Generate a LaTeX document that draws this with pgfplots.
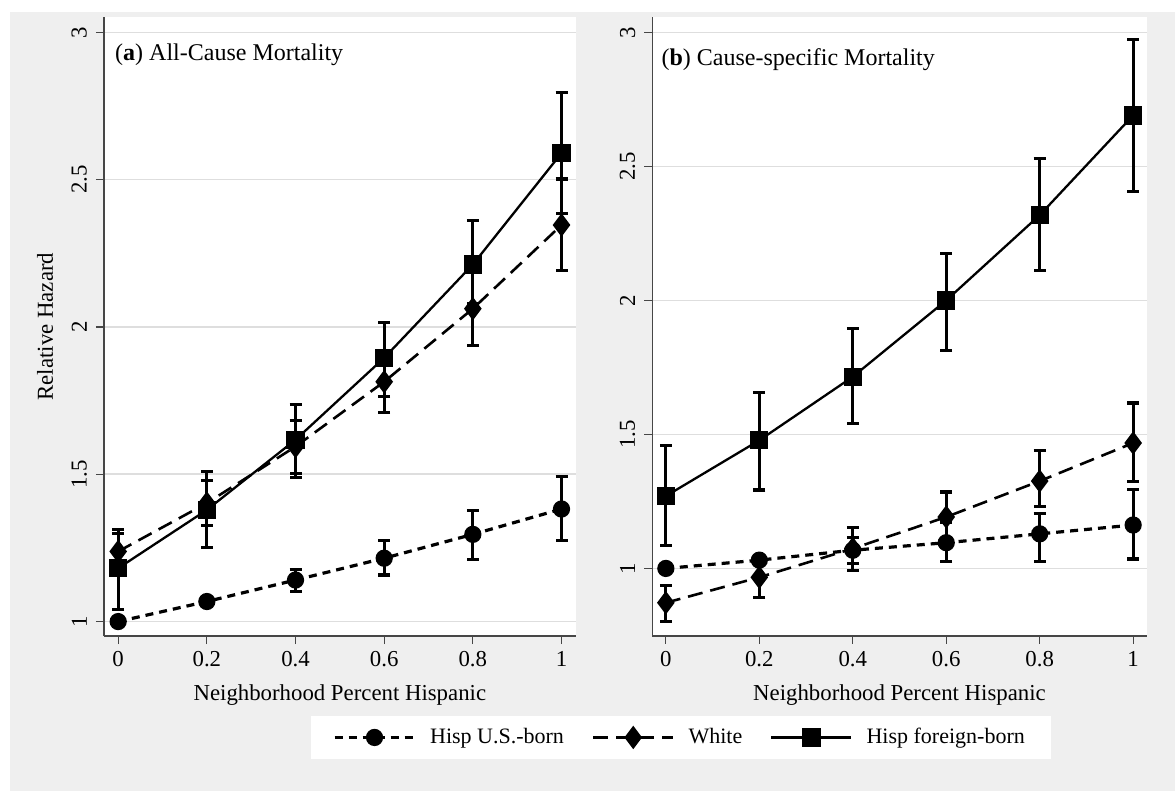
\documentclass[border=0pt]{standalone}
\usepackage{pgfplots}
\pgfplotsset{compat=1.18}
\usepackage{pgfplotstable}
\usepackage{fontspec}
\setmainfont{Liberation Serif}
\definecolor{bggray}{RGB}{239,239,239}
\definecolor{gridgray}{RGB}{222,222,222}
\definecolor{axisgray}{RGB}{70,70,70}

\pgfplotstableread{
x y lo hi
0 1.000 1.000 1.000
0.2 1.068 1.058 1.080
0.4 1.141 1.102 1.178
0.6 1.215 1.158 1.274
0.8 1.296 1.212 1.378
1 1.382 1.274 1.493
}\aUS
\pgfplotstableread{
x y lo hi
0 1.238 1.170 1.313
0.2 1.402 1.326 1.479
0.4 1.594 1.503 1.682
0.6 1.814 1.709 1.920
0.8 2.062 1.936 2.190
1 2.346 2.192 2.502
}\aW
\pgfplotstableread{
x y lo hi
0 1.181 1.042 1.300
0.2 1.379 1.252 1.509
0.4 1.617 1.489 1.738
0.6 1.895 1.763 2.015
0.8 2.212 2.080 2.361
1 2.590 2.384 2.796
}\aF
\pgfplotstableread{
x y lo hi
0 1.000 1.000 1.000
0.2 1.031 1.015 1.047
0.4 1.068 1.017 1.114
0.6 1.096 1.025 1.170
0.8 1.129 1.027 1.205
1 1.162 1.035 1.294
}\bUS
\pgfplotstableread{
x y lo hi
0 0.872 0.801 0.935
0.2 0.967 0.892 1.045
0.4 1.074 0.991 1.153
0.6 1.192 1.100 1.285
0.8 1.326 1.230 1.440
1 1.468 1.325 1.617
}\bW
\pgfplotstableread{
x y lo hi
0 1.270 1.086 1.459
0.2 1.478 1.293 1.656
0.4 1.715 1.540 1.895
0.6 2.000 1.813 2.176
0.8 2.318 2.112 2.528
1 2.690 2.407 2.974
}\bF

\pgfplotsset{
  panel/.style={
    scale only axis,
    axis background/.style={fill=white},
    axis x line*=bottom, axis y line*=left,
    axis line style={axisgray, line width=0.6pt},
    tick align=outside, major tick length=4pt,
    tick style={axisgray, line width=0.6pt},
    xtick={0,0.2,0.4,0.6,0.8,1}, ytick={1,1.5,2,2.5,3},
    ymajorgrids, grid style={gridgray, line width=0.8pt},
    tick label style={font=\fontsize{11.4}{13}\selectfont},
    /pgf/number format/assume math mode=true,
    yticklabel style={xshift=-1pt, rotate=90, anchor=south},
    label style={font=\fontsize{11.4}{13}\selectfont},
    xlabel={Neighborhood Percent Hispanic},
    xlabel style={at={(axis description cs:0.5,-0.095)}, anchor=center},
  },
  usb/.style={black, line width=1.6pt, dash pattern=on 4pt off 3pt, mark=*, mark size=3.5pt, mark options={solid}},
  wht/.style={black, line width=1.3pt, dash pattern=on 7.5pt off 4pt, mark=diamond*, mark size=4.8pt, mark options={solid}},
  frb/.style={black, line width=1.15pt, solid, mark=square*, mark size=4pt},
  ci/.style={forget plot, black, only marks, mark=none,
    error bars/y dir=both, error bars/y explicit,
    error bars/error mark=-,
    error bars/error bar style={black, line width=1.6pt, solid},
    error bars/error mark options={rotate=90, black, line width=1.6pt, mark size=3pt, solid}},
}

\begin{document}
\begin{tikzpicture}
\fill[white] (0pt,0pt) rectangle (587.5pt,-395.5pt);
\fill[bggray] (5pt,-6pt) rectangle (587.5pt,-395.5pt);

\begin{axis}[panel,
  at={(52pt,-318pt)}, anchor=south west,
  width=235.85pt, height=309.35pt,
  xmin=-0.032, xmax=1.032, ymin=0.951, ymax=3.051,
  ylabel={Relative Hazard},
  ylabel style={at={(axis description cs:-0.125,0.5)}, anchor=center, rotate=0},
  legend columns=3,
  legend image code/.code={\draw[mark repeat=2,mark phase=2,#1] plot coordinates {(0pt,0pt) (20pt,0pt) (40pt,0pt)};},
  legend style={at={(axis description cs:1.223,-0.164)}, anchor=center, draw=none, fill=white,
    font=\fontsize{11}{13}\selectfont, inner xsep=11pt, inner ysep=4pt,
    /tikz/every odd column/.append style={column sep=5pt},
    /tikz/every even column/.append style={column sep=12pt}},
]
\addplot[skip coords between index={0}{1}, ci] table[x=x,y=y,y error plus expr=\thisrow{hi}-\thisrow{y},y error minus expr=\thisrow{y}-\thisrow{lo}] {\aUS};
\addplot[ci] table[x=x,y=y,y error plus expr=\thisrow{hi}-\thisrow{y},y error minus expr=\thisrow{y}-\thisrow{lo}] {\aW};
\addplot[ci] table[x=x,y=y,y error plus expr=\thisrow{hi}-\thisrow{y},y error minus expr=\thisrow{y}-\thisrow{lo}] {\aF};
\addplot[usb] table[x=x,y=y] {\aUS};
\addplot[wht] table[x=x,y=y] {\aW};
\addplot[frb] table[x=x,y=y] {\aF};
\addlegendentry{Hisp U.S.-born}
\addlegendentry{White}
\addlegendentry{Hisp foreign-born}
\node[anchor=west, inner sep=0pt, font=\fontsize{12}{14}\selectfont] at (axis description cs:0.023,0.939) {(\textbf{a}) All-Cause Mortality};
\end{axis}

\begin{axis}[panel,
  at={(326.15pt,-318pt)}, anchor=south west,
  width=247.2pt, height=309.35pt,
  xmin=-0.029, xmax=1.029, ymin=0.748, ymax=3.056,
]
\addplot[skip coords between index={0}{1}, ci] table[x=x,y=y,y error plus expr=\thisrow{hi}-\thisrow{y},y error minus expr=\thisrow{y}-\thisrow{lo}] {\bUS};
\addplot[ci] table[x=x,y=y,y error plus expr=\thisrow{hi}-\thisrow{y},y error minus expr=\thisrow{y}-\thisrow{lo}] {\bW};
\addplot[ci] table[x=x,y=y,y error plus expr=\thisrow{hi}-\thisrow{y},y error minus expr=\thisrow{y}-\thisrow{lo}] {\bF};
\addplot[usb] table[x=x,y=y] {\bUS};
\addplot[wht] table[x=x,y=y] {\bW};
\addplot[frb] table[x=x,y=y] {\bF};
\node[anchor=west, inner sep=0pt, font=\fontsize{12}{14}\selectfont] at (axis description cs:0.018,0.931) {(\textbf{b}) Cause-specific Mortality};
\end{axis}
\end{tikzpicture}
\end{document}
